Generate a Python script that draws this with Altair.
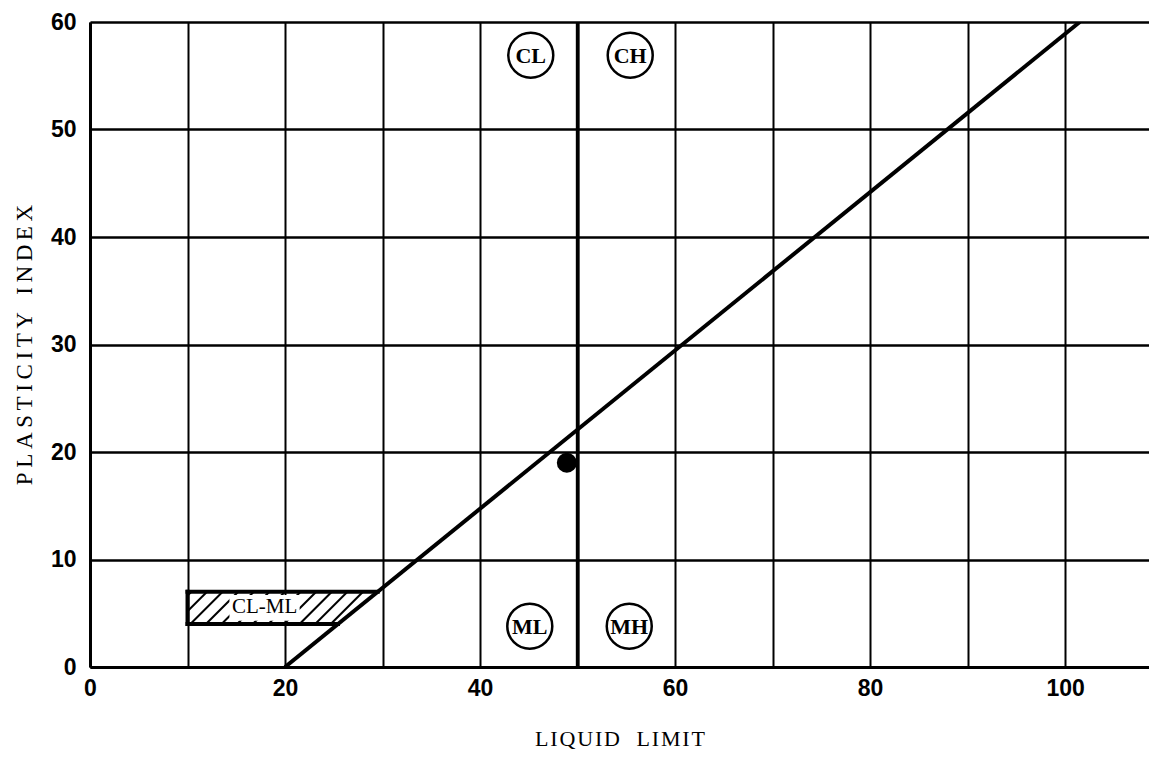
import altair as alt
import pandas as pd

# ---- data ----
x_grid = [0, 10, 20, 30, 40, 50, 60, 70, 80, 90, 100]
x_labels = [0, 20, 40, 60, 80, 100]
y_ticks = [0, 10, 20, 30, 40, 50, 60]

a_line_ll = [20, 101.5]
a_line_pi = [0, 60]

divider_ll = [50]
divider_pi = [0]
divider_pi2 = [60]

point_ll = [48.9]
point_pi = [19.0]

zone_names = ["CL", "CH", "ML", "MH"]
zone_ll = [45.2, 55.4, 45.1, 55.3]
zone_pi = [56.9, 56.9, 3.8, 3.8]

clml_left = 10
clml_bottom = 4
clml_top = 7
clml_label = "CL-ML"
clml_label_ll = 17.9
clml_label_pi = 5.6

XMAX = 108.6
W = 1059
H = 645


def a_line(pi):
    return a_line_ll[0] + (pi - a_line_pi[0]) * (a_line_ll[1] - a_line_ll[0]) / (a_line_pi[1] - a_line_pi[0])


# ---- tables ----
a_df = pd.DataFrame({"ll": a_line_ll, "pi": a_line_pi})
div_df = pd.DataFrame({"ll": divider_ll, "pi": divider_pi, "pi2": divider_pi2})
pt_df = pd.DataFrame({"ll": point_ll, "pi": point_pi})
zone_df = pd.DataFrame({"name": zone_names, "ll": zone_ll, "pi": zone_pi})

box_df = pd.DataFrame({
    "x": [clml_left, clml_left, clml_left],
    "x2": [clml_left, a_line(clml_top), a_line(clml_bottom)],
    "y": [clml_bottom, clml_top, clml_bottom],
    "y2": [clml_top, clml_top, clml_bottom],
})

# hatch lines inside the CL-ML band (45 degrees on screen)
px_ll = W / XMAX
px_pi = H / 60
slope = px_pi / px_ll
a_slope = (a_line_ll[1] - a_line_ll[0]) / (a_line_pi[1] - a_line_pi[0])
rows = []
step = 1.6
b = clml_left - (clml_top - clml_bottom) * slope + 0.4
while b < a_line(clml_bottom):
    p1 = clml_bottom + (clml_left - b) / slope
    p2 = clml_bottom + (b - a_line(clml_bottom)) / (a_slope - slope)
    lo = max(clml_bottom, p1, p2)
    hi = clml_top
    if lo < hi - 0.05:
        rows.append({"x": b + (lo - clml_bottom) * slope, "y": lo,
                     "x2": b + (hi - clml_bottom) * slope, "y2": hi})
    b += step
hatch_df = pd.DataFrame(rows)

mask_df = pd.DataFrame({"x": [clml_label_ll - 3.6], "x2": [clml_label_ll + 3.6],
                        "y": [clml_bottom + 0.3], "y2": [clml_top - 0.3]})
lab_df = pd.DataFrame({"ll": [clml_label_ll], "pi": [clml_label_pi], "t": [clml_label]})

xs = alt.Scale(domain=[0, XMAX], nice=False, zero=False)
ys = alt.Scale(domain=[0, 60], nice=False)

x_axis = alt.Axis(values=x_grid, labelExpr="datum.value % 20 == 0 ? datum.label : ''",
                  title="L\u200aI\u200aQ\u200aU\u200aI\u200aD\u00a0\u00a0\u00a0L\u200aI\u200aM\u200aI\u200aT",
                  grid=True, gridColor="black", gridWidth=2, gridOpacity=1,
                  domainColor="black", domainWidth=3, ticks=False, labelFlush=False,
                  labelFont="Liberation Sans", labelFontWeight="bold", labelFontSize=23,
                  labelColor="black", labelPadding=10,
                  titleFont="Liberation Serif", titleFontWeight="normal", titleFontSize=22,
                  titleColor="black", titlePadding=28)
y_axis = alt.Axis(values=y_ticks,
                  title="P\u2009L\u2009A\u2009S\u2009T\u2009I\u2009C\u2009I\u2009T\u2009Y\u00a0\u00a0\u00a0I\u2009N\u2009D\u2009E\u2009X",
                  grid=True, gridColor="black", gridWidth=2.5, gridOpacity=1,
                  domainColor="black", domainWidth=3, ticks=False, labelFlush=False,
                  labelFont="Liberation Sans", labelFontWeight="bold", labelFontSize=23,
                  labelColor="black", labelPadding=14,
                  titleFont="Liberation Serif", titleFontWeight="normal", titleFontSize=23,
                  titleColor="black", titlePadding=14)

base = alt.Chart(a_df).mark_line(color="black", strokeWidth=4, clip=True).encode(
    x=alt.X("ll:Q", scale=xs, axis=x_axis),
    y=alt.Y("pi:Q", scale=ys, axis=y_axis),
)

divider = alt.Chart(div_df).mark_rule(color="black", strokeWidth=3.5).encode(
    x="ll:Q", y="pi:Q", y2="pi2:Q")

box = alt.Chart(box_df).mark_rule(color="black", strokeWidth=4, strokeCap="square").encode(
    x="x:Q", x2="x2:Q", y="y:Q", y2="y2:Q")

hatch = alt.Chart(hatch_df).mark_rule(color="black", strokeWidth=2).encode(
    x="x:Q", x2="x2:Q", y="y:Q", y2="y2:Q")

mask = alt.Chart(mask_df).mark_rect(color="white").encode(
    x="x:Q", x2="x2:Q", y="y:Q", y2="y2:Q")

clml_text = alt.Chart(lab_df).mark_text(font="Liberation Serif", fontSize=21, color="black").encode(
    x="ll:Q", y="pi:Q", text="t:N")

pt = alt.Chart(pt_df).mark_point(shape="circle", filled=True, size=400, color="black", opacity=1).encode(
    x="ll:Q", y="pi:Q")

zone_circ = alt.Chart(zone_df).mark_point(shape="circle", filled=True, fill="white", stroke="black",
                                          strokeWidth=2.5, size=2025, opacity=1).encode(
    x="ll:Q", y="pi:Q")
zone_txt = alt.Chart(zone_df).mark_text(font="Liberation Serif", fontWeight="bold", fontSize=22,
                                        color="black", dy=1).encode(
    x="ll:Q", y="pi:Q", text="name:N")

chart = alt.layer(hatch, mask, clml_text, box, base, divider, pt, zone_circ, zone_txt).properties(
    width=W, height=H,
    autosize=alt.AutoSizeParams(type="none"),
    padding={"left": 82, "top": 14, "right": 0, "bottom": 85},
).configure_view(stroke=None).configure(background="white")

chart.save("out.html", embed_options={"renderer": "svg", "actions": False})
